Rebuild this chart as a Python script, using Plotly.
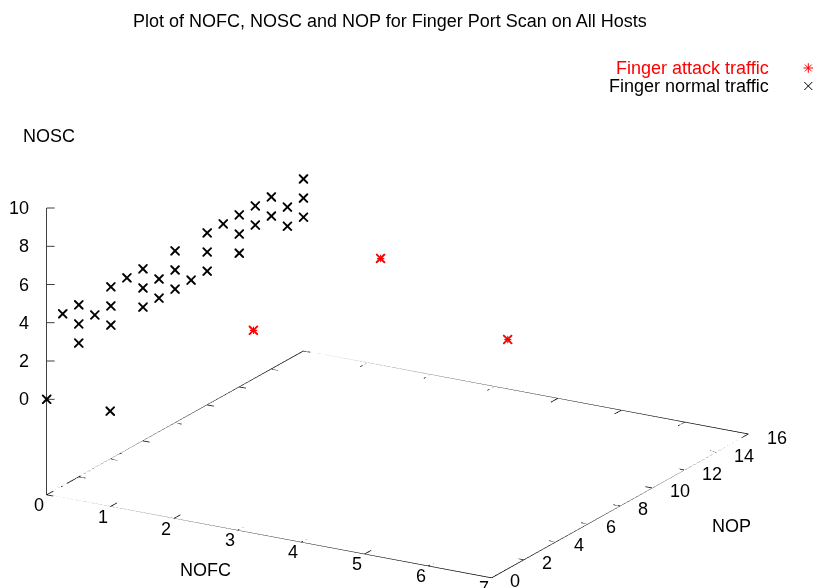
import plotly.graph_objects as go

# Finger attack traffic (NOFC, NOP, NOSC)
attack_nofc = [3, 5, 7]
attack_nop = [1, 1, 1]
attack_nosc = [5, 10, 7]

# Finger normal traffic (NOFC, NOP, NOSC)
normal_nofc = [0, 1, 0, 0, 0, 0, 0, 0, 0, 0, 0, 0, 0, 0, 0, 0, 0, 0, 0,
               0, 0, 0, 0, 0, 0, 0, 0, 0, 0, 0, 0, 0, 0, 0, 0, 0]
normal_nop = [0, 0, 1, 2, 2, 2, 3, 4, 4, 4, 5, 6, 6, 6, 7, 7, 8, 8, 8,
              9, 10, 10, 10, 11, 12, 12, 12, 13, 13, 14, 14, 15, 15, 16, 16, 16]
normal_nosc = [0, 0, 4, 4, 3, 2, 3, 4, 3, 2, 4, 4, 3, 2, 3, 2, 4, 3, 2,
               2, 4, 3, 2, 4, 4, 3, 2, 4, 3, 4, 3, 3, 2, 4, 3, 2]

x_ticks = [0, 1, 2, 3, 4, 5, 6, 7]
y_ticks = [0, 2, 4, 6, 8, 10, 12, 14, 16]
z_ticks = [0, 2, 4, 6, 8, 10]

X_RANGE = [0, 7]
Y_RANGE = [0, 16]
Z_RANGE = [0, 10]
TICSLEVEL = 0.5
Z_BASE = Z_RANGE[0] - TICSLEVEL * (Z_RANGE[1] - Z_RANGE[0])

FONT = "Liberation Sans, Arial, sans-serif"
FS = 18
BLACK = "#000000"
RED = "#ff0000"

x0, x1 = X_RANGE
y0, y1 = Y_RANGE

fig = go.Figure()

# base frame of the 3D box plus the vertical z axis
fx = [x0, x1, x1, x0, x0, None, x0, x0]
fy = [y0, y0, y1, y1, y0, None, y0, y0]
fz = [Z_BASE] * 5 + [None, Z_BASE, Z_RANGE[1]]
fig.add_trace(go.Scatter3d(x=fx, y=fy, z=fz, mode="lines",
                           line=dict(color=BLACK, width=1.5),
                           hoverinfo="skip", showlegend=False))

# tick marks (inward, mirrored on the far edges)
XT_LEN = 0.42 * (y1 - y0) / 16
YT_LEN = 0.105 * (x1 - x0) / 7
tx, ty, tz = [], [], []
for v in x_ticks:
    tx += [v, v, None, v, v, None]
    ty += [y0, y0 + XT_LEN, None, y1, y1 - XT_LEN, None]
    tz += [Z_BASE, Z_BASE, None, Z_BASE, Z_BASE, None]
for v in y_ticks:
    tx += [x1, x1 - YT_LEN, None, x0, x0 + YT_LEN, None]
    ty += [v, v, None, v, v, None]
    tz += [Z_BASE, Z_BASE, None, Z_BASE, Z_BASE, None]
for v in z_ticks:
    tx += [x0, x0 + 0.0945, None]
    ty += [y0, y0 + 0.1254, None]
    tz += [v, v, None]
fig.add_trace(go.Scatter3d(x=tx, y=ty, z=tz, mode="lines",
                           line=dict(color=BLACK, width=1.5),
                           hoverinfo="skip", showlegend=False))

# data points: normal traffic as crosses, attack traffic as asterisks (x with +)
fig.add_trace(go.Scatter3d(x=normal_nofc, y=normal_nop, z=normal_nosc,
                           mode="markers", name="Finger normal traffic",
                           marker=dict(symbol="x", size=2.2, color=BLACK),
                           showlegend=False))
fig.add_trace(go.Scatter3d(x=attack_nofc, y=attack_nop, z=attack_nosc,
                           mode="markers+text", name="Finger attack traffic",
                           marker=dict(symbol="x", size=2.2, color=RED),
                           text=["+"] * len(attack_nofc), textposition="middle center",
                           textfont=dict(family=FONT, size=15, color=RED),
                           showlegend=False))

# key samples
fig.add_trace(go.Scatter(x=[0.5, 0.5], y=[0.25, 0.75], mode="markers",
                         marker=dict(symbol=["x-thin-open", "asterisk-open"],
                                     size=8, color=[BLACK, RED],
                                     line=dict(width=1, color=[BLACK, RED])),
                         xaxis="x", yaxis="y", hoverinfo="skip", showlegend=False))

# tick labels
annots = []
for v in x_ticks:
    annots.append(dict(x=v, y=y0, z=Z_BASE, text=str(v), showarrow=False,
                       xanchor="center", yanchor="middle", xshift=-7.5, yshift=-10,
                       font=dict(family=FONT, size=FS, color=BLACK)))
for v in y_ticks:
    annots.append(dict(x=x1, y=v, z=Z_BASE, text=str(v), showarrow=False,
                       xanchor="left", yanchor="middle", xshift=16, yshift=-3.5,
                       font=dict(family=FONT, size=FS, color=BLACK)))
for v in z_ticks:
    annots.append(dict(x=x0, y=y0, z=v, text=str(v), showarrow=False,
                       xanchor="right", yanchor="middle", xshift=-16, yshift=0,
                       font=dict(family=FONT, size=FS, color=BLACK)))

hidden = dict(visible=False, showbackground=False, showgrid=False,
              zeroline=False, showspikes=False)
EYE_DIST = 5.0
eye = dict(x=0.473 * EYE_DIST, y=-0.8195 * EYE_DIST, z=0.3233 * EYE_DIST)
ZOOM = 1.924

KEY_X = 808.3 / 817
KEY_Y0 = 1 - 95 / 588
KEY_Y1 = 1 - 59 / 588

fig.update_layout(
    width=817, height=588,
    margin=dict(l=0, r=0, t=0, b=0),
    paper_bgcolor="white", plot_bgcolor="white",
    showlegend=False,
    xaxis=dict(domain=[KEY_X - 0.01, KEY_X + 0.01], range=[0, 1], visible=False,
               fixedrange=True),
    yaxis=dict(domain=[KEY_Y0, KEY_Y1], range=[0, 1], visible=False, fixedrange=True),
    scene=dict(
        domain=dict(x=[0, 0.9733], y=[0, 0.9078]),
        xaxis=dict(range=X_RANGE, **hidden),
        yaxis=dict(range=Y_RANGE, **hidden),
        zaxis=dict(range=[Z_BASE, Z_RANGE[1]], **hidden),
        aspectmode="manual",
        aspectratio=dict(x=ZOOM, y=ZOOM, z=0.59 * ZOOM),
        camera=dict(eye=eye, up=dict(x=0, y=0, z=1), center=dict(x=0, y=0, z=0),
                    projection=dict(type="orthographic")),
        annotations=annots,
        bgcolor="white",
    ),
    annotations=[
        dict(text="Plot of NOFC, NOSC and NOP for Finger Port Scan on All Hosts",
             x=390 / 817, y=1 - 21 / 588, xref="paper", yref="paper",
             xanchor="center", yanchor="middle", showarrow=False,
             font=dict(family=FONT, size=FS, color=BLACK)),
        dict(text="NOFC", x=205.7 / 817, y=1 - 570.3 / 588, xref="paper", yref="paper",
             xanchor="center", yanchor="middle", showarrow=False,
             font=dict(family=FONT, size=FS, color=BLACK)),
        dict(text="NOP", x=731 / 817, y=1 - 526 / 588, xref="paper", yref="paper",
             xanchor="center", yanchor="middle", showarrow=False,
             font=dict(family=FONT, size=FS, color=BLACK)),
        dict(text="NOSC", x=20.7 / 817, y=1 - 135.5 / 588, xref="paper", yref="paper",
             xanchor="left", yanchor="middle", showarrow=False,
             font=dict(family=FONT, size=FS, color=BLACK)),
        dict(text="Finger attack traffic", x=771 / 817, y=1 - 68 / 588,
             xref="paper", yref="paper", xanchor="right", yanchor="middle",
             showarrow=False, font=dict(family=FONT, size=FS, color=RED)),
        dict(text="Finger normal traffic", x=771 / 817, y=1 - 86 / 588,
             xref="paper", yref="paper", xanchor="right", yanchor="middle",
             showarrow=False, font=dict(family=FONT, size=FS, color=BLACK)),
    ],
)

fig.write_html("out.html")
